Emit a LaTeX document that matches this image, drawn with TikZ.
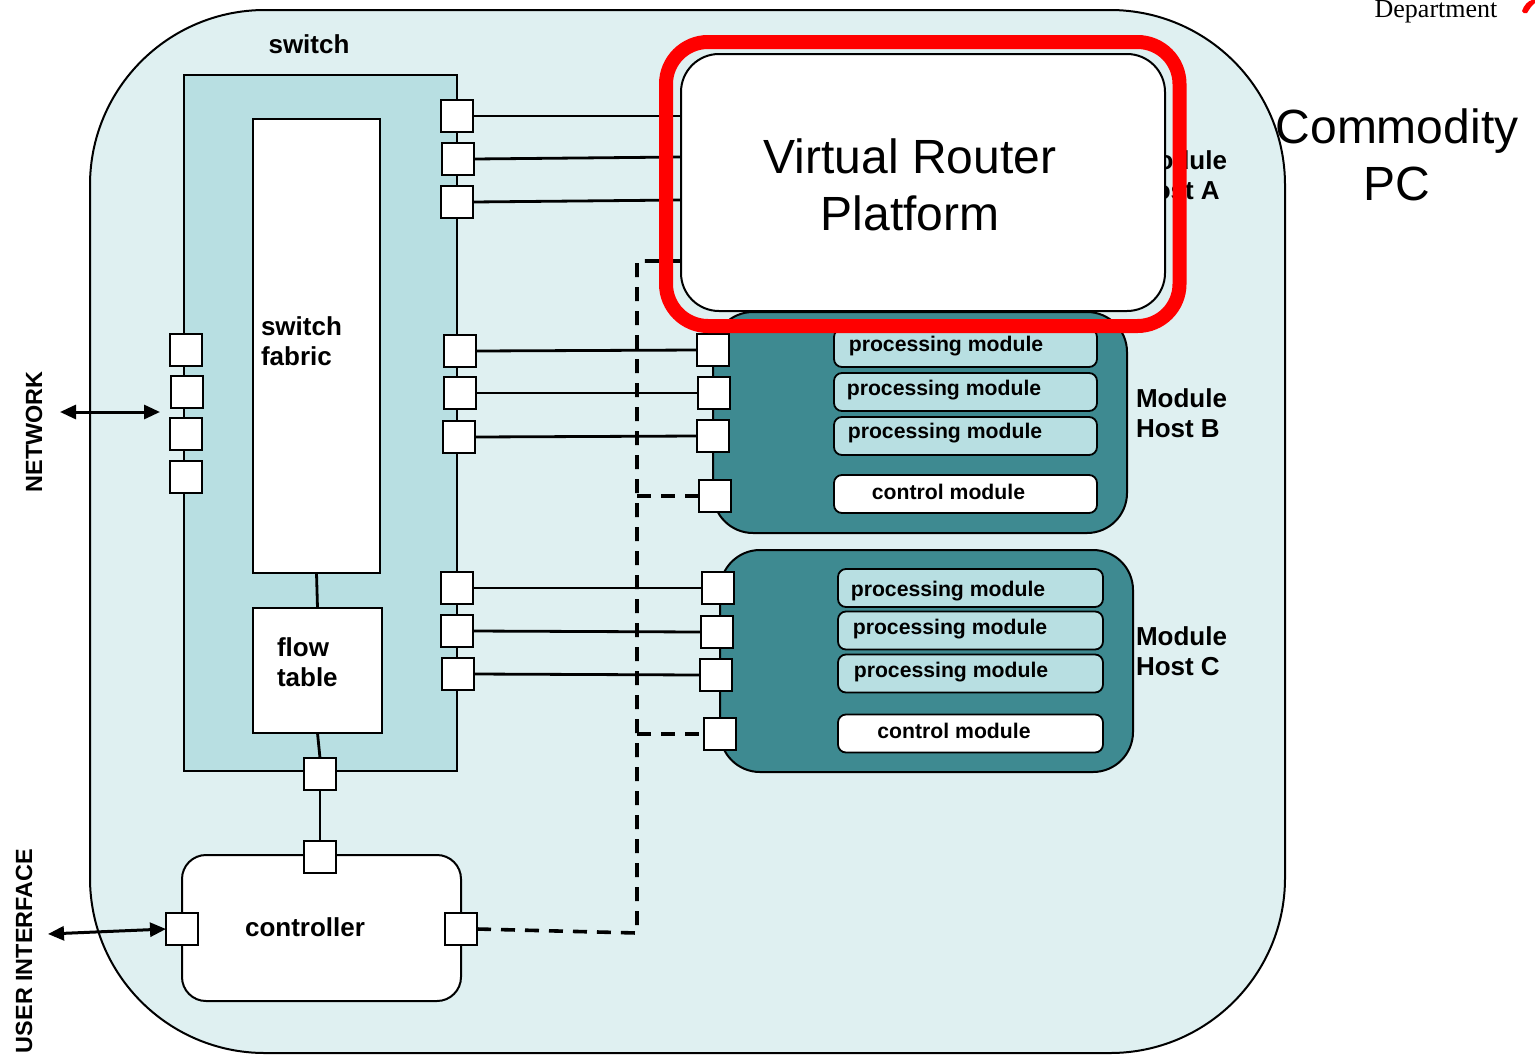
\documentclass[tikz,border=0pt]{standalone}
\usepackage{fontspec}
\setmainfont{Liberation Sans}
\newfontfamily\deptfont{Liberation Serif}
\usetikzlibrary{arrows.meta}
\definecolor{pcbg}{HTML}{DFF0F1}
\definecolor{swbg}{HTML}{B8DFE2}
\definecolor{hostbg}{HTML}{3E8A91}
\definecolor{markred}{HTML}{FF0000}
\begin{document}
\begin{tikzpicture}[x=0.5pt,y=-0.5pt,
  every node/.style={inner sep=0pt, outer sep=0pt},
  portbox/.style={draw=black, line width=1.1pt, fill=white, minimum width=16pt, minimum height=16pt},
  plainbox/.style={draw=black, line width=1pt},
  connline/.style={draw=black, line width=1.4pt},
  ctlline/.style={draw=black, line width=1.8pt, dash pattern=on 7pt off 5pt},
  procmod/.style={draw=black, line width=0.9pt, fill=swbg, rounded corners=4pt, minimum height=19pt},
  ctlmod/.style={procmod, fill=white},
  lbltext/.style={font=\bfseries\fontsize{13}{15}\selectfont, align=left},
  pmtext/.style={font=\bfseries\fontsize{10.6}{12}\selectfont},
  bigtext/.style={font=\fontsize{24}{28.5}\selectfont, align=center},
  sidelbl/.style={font=\bfseries\fontsize{11.7}{13}\selectfont, rotate=90},
  biarrow/.style={line width=1.5pt, {Triangle[length=8pt,width=7pt]}-{Triangle[length=8pt,width=7pt]}}
]
\useasboundingbox (0,0) rectangle (1535,1055);
\fill[white] (0,0) rectangle (1535,1055);

% Commodity PC
\node[plainbox, fill=pcbg, rounded corners=87.5pt, minimum width=597.5pt, minimum height=521.5pt] (pc) at (687.5,531.5) {};

% switch
\node[plainbox, fill=swbg, minimum width=136.5pt, minimum height=348pt] (switch) at (320.5,423) {};
\node[plainbox, fill=white, minimum width=63.5pt, minimum height=227pt] (fabric) at (316.5,346) {};
\node[plainbox, fill=white, minimum width=64.5pt, minimum height=62.5pt] (flow) at (317.5,670.5) {};

% Module Host A label (hidden behind platform box)
\node[lbltext, anchor=west] (hostAlbl) at (1136,175.5) {Module\\Host A};

% Module hosts
\node[plainbox, fill=hostbg, rounded corners=20pt, minimum width=207pt, minimum height=110.5pt] (hostB) at (920,422.5) {};
\node[plainbox, fill=hostbg, rounded corners=20pt, minimum width=206.5pt, minimum height=111pt] (hostC) at (926.5,661) {};

\node[procmod, minimum width=131.5pt] (pmB1) at (965.5,348) {};
\node[procmod, minimum width=131.5pt] (pmB2) at (965.5,392) {};
\node[procmod, minimum width=131.5pt] (pmB3) at (965.5,436) {};
\node[ctlmod, minimum width=131.5pt] (cmB) at (965.5,494) {};
\node[procmod, minimum width=132.5pt] (pmC1) at (970.5,588) {};
\node[procmod, minimum width=132.5pt] (pmC2) at (970.5,630.5) {};
\node[procmod, minimum width=132.5pt] (pmC3) at (970.5,673.5) {};
\node[ctlmod, minimum width=132.5pt] (cmC) at (970.5,733.5) {};

\node[pmtext] (tB1) at (946,346) {processing module};
\node[pmtext] (tB2) at (944,390) {processing module};
\node[pmtext] (tB3) at (945,433) {processing module};
\node[pmtext] (tBc) at (948.5,492) {control module};
\node[pmtext] (tC1) at (948,591) {processing module};
\node[pmtext] (tC2) at (950,629) {processing module};
\node[pmtext] (tC3) at (951,672) {processing module};
\node[pmtext] (tCc) at (954,731) {control module};

% controller
\node[plainbox, fill=white, rounded corners=12pt, minimum width=139.5pt, minimum height=73pt] (ctrl) at (321.5,928) {};

% connectors inside switch
\draw[connline] (fabric.south) -- (flow.north);
\draw[connline] (flow.south) -- (320,758);

\coordinate (vrpW) at (681,0);
\coordinate (dc) at (637,933);
\coordinate (dt) at (637,261);
\coordinate (djB) at (637,496);
\coordinate (djC) at (637,734);

\node[portbox] (R1) at (457,116) {};
\node[portbox] (R2) at (458,159) {};
\node[portbox] (R3) at (457,202) {};
\node[portbox] (R4) at (460,351) {};
\node[portbox] (R5) at (460,393) {};
\node[portbox] (R6) at (459,437) {};
\node[portbox] (R7) at (457,588) {};
\node[portbox] (R8) at (457,631) {};
\node[portbox] (R9) at (458,674) {};
\node[portbox] (B1) at (713,350) {};
\node[portbox] (B2) at (714,393) {};
\node[portbox] (B3) at (713,436) {};
\node[portbox] (B4) at (715,496) {};
\node[portbox] (C1) at (718,588) {};
\node[portbox] (C2) at (717,632) {};
\node[portbox] (C3) at (716,675) {};
\node[portbox] (C4) at (720,734) {};

\draw[connline] (R1.east) -- (vrpW |- 0,116);
\draw[connline] (R2.east) -- (vrpW |- 0,157);
\draw[connline] (R3.east) -- (vrpW |- 0,200);
\draw[connline] (R4.east) -- (B1.west);
\draw[connline] (R5.east) -- (B2.west);
\draw[connline] (R6.east) -- (B3.west);
\draw[connline] (R7.east) -- (C1.west);
\draw[connline] (R8.east) -- (C2.west);
\draw[connline] (R9.east) -- (C3.west);

\node[portbox] (L1) at (186,350) {};
\node[portbox] (L2) at (187,392) {};
\node[portbox] (L3) at (186,434) {};
\node[portbox] (L4) at (186,477) {};
\node[portbox] (S) at (320,774) {};
\node[portbox] (Ct) at (320,857) {};
\node[portbox] (Cl) at (182,929) {};
\node[portbox] (Cr) at (461,929) {};
\draw[connline] (S.south) -- (Ct.north);

% control (dashed) links
\draw[ctlline] (Cr.east) -- (dc) -- (dt) -- (dt -| vrpW);
\draw[ctlline] (djB) -- (B4.west);
\draw[ctlline] (djC) -- (C4.west);
\foreach \p in {R1,R2,R3,R4,R5,R6,R7,R8,R9,B1,B2,B3,B4,C1,C2,C3,C4,Cr}{\node[portbox] at (\p) {};}

% outside arrows
\coordinate (netA) at (60,412);
\coordinate (netB) at (160,412);
\draw[biarrow] (netA) -- (netB);
\coordinate (uiA) at (48,934);
\draw[biarrow] (uiA) -- (Cl.west);

% Virtual Router Platform
\node[draw=black, line width=1pt, fill=white, rounded corners=19pt, minimum width=242pt, minimum height=128.5pt] (vrp) at (923,182.5) {};
\node[draw=markred, line width=7pt, rounded corners=21pt, minimum width=256.75pt, minimum height=142pt] (hl) at (922.75,184) {};
\node[bigtext] (vrpt) at (910,185) {Virtual Router\\Platform};

% labels
\node[lbltext] (swl) at (309,44) {switch};
\node[lbltext, anchor=west] (fabl) at (261,341) {switch\\fabric};
\node[lbltext, anchor=west] (flowl) at (277,662) {flow\\table};
\node[lbltext] (ctrll) at (305,927) {controller};
\node[lbltext, anchor=west] (hostBl) at (1136,413) {Module\\Host B};
\node[lbltext, anchor=west] (hostCl) at (1136,651) {Module\\Host C};
\node[bigtext] (pcl) at (1397,155) {Commodity\\PC};
\node[sidelbl] (netl) at (34,432) {NETWORK};
\node[sidelbl] (uil) at (24,951) {USER INTERFACE};
\node[font=\deptfont\fontsize{13}{15}\selectfont, anchor=base] (dept) at (1436,17) {Department};
\fill[markred] (1522,11) .. controls (1524,5) and (1528,1) .. (1532,0) -- (1535,0) -- (1535,3) .. controls (1531,6) and (1529,10) .. (1527,13) .. controls (1525,14) and (1522,13) .. (1522,11) -- cycle;
\end{tikzpicture}
\end{document}
